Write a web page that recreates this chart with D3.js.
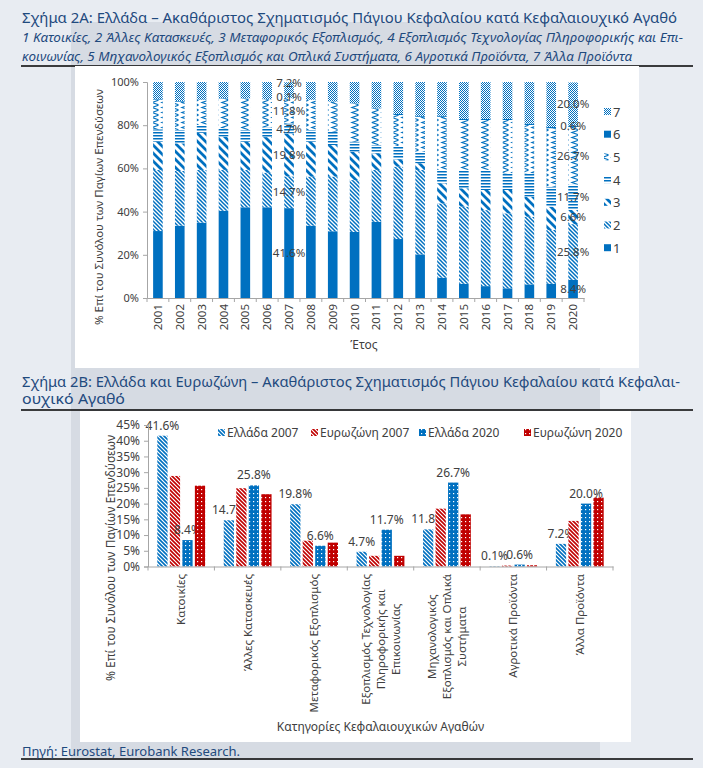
<!DOCTYPE html>
<html><head><meta charset="utf-8">
<script src="https://cdn.jsdelivr.net/npm/d3@7"></script>
<style>
body{margin:0;background:#e8ecf2;}
svg{display:block;}
text{font-family:"Noto Sans",sans-serif;}
</style>
</head><body>
<svg id="c" width="703" height="768"></svg>
<script>
// ---------- DATA: Chart 2A ----------
const years = ["2001","2002","2003","2004","2005","2006","2007","2008","2009","2010","2011","2012","2013","2014","2015","2016","2017","2018","2019","2020"];
const seriesKeys = ["1","2","3","4","5","6","7"];
const s1 = [31.0,33.5,34.9,40.4,42.0,42.0,41.6,33.5,30.9,30.6,35.3,27.3,20.2,9.4,6.6,5.5,4.5,6.3,6.6,8.4];
const s2 = [28.3,25.3,24.4,18.9,17.3,16.0,14.7,22.7,25.3,24.0,24.0,33.5,39.1,34.4,35.7,35.2,34.7,31.3,24.9,25.8];
const s3 = [13.1,12.8,17.2,15.4,13.1,16.5,19.8,16.2,14.6,13.1,7.7,3.4,3.1,9.3,8.5,9.3,10.8,9.3,10.8,6.6];
const s4 = [5.7,6.2,3.6,3.9,5.4,4.5,4.7,5.4,6.2,4.7,3.8,6.2,5.3,6.2,8.5,9.3,7.7,10.8,9.2,11.7];
const s5 = [13.6,13.1,11.6,13.8,14.6,13.0,11.8,13.9,13.9,17.7,17.0,14.3,16.2,24.6,23.1,23.1,24.7,22.4,27.1,26.7];
const s6 = [0.3,0.3,0.2,0.2,0.1,0.1,0.1,0.1,0.1,0.1,0.3,0.5,0.4,0.5,0.5,0.5,0.5,0.6,0.6,0.6];
const s7 = [8.0,8.8,8.1,7.4,7.5,7.9,7.2,8.2,9.0,9.8,11.9,14.8,15.7,15.6,17.1,17.1,17.1,19.3,20.8,20.0];
const labelYears = ["2007","2020"];
const yTicksA = [0,0.2,0.4,0.6,0.8,1.0];

// ---------- DATA: Chart 2B ----------
const catLines = [["Κατοικίες"],["Άλλες Κατασκευές"],["Μεταφορικός Εξοπλισμός"],["Εξοπλισμός Τεχνολογίας","Πληροφορικής και","Επικοινωνίας"],["Μηχανολογικός","Εξοπλισμός και Οπλικά","Συστήματα"],["Αγροτικά Προϊόντα"],["Άλλα Προϊόντα"]];
const categoriesB = catLines.map(l => l.join(" "));
const seriesB = ["Ελλάδα 2007","Ευρωζώνη 2007","Ελλάδα 2020","Ευρωζώνη 2020"];
const greece2007 = [41.6,14.7,19.8,4.7,11.8,0.1,7.2];
const eurozone2007 = [28.8,24.9,8.2,3.4,18.4,0.3,14.5];
const greece2020 = [8.4,25.8,6.6,11.7,26.7,0.6,20.0];
const eurozone2020 = [25.7,23.0,7.6,3.4,16.6,0.4,21.9];
const labelledB = ["Ελλάδα 2007","Ελλάδα 2020"];
const yTicksB = [0,0.05,0.10,0.15,0.20,0.25,0.30,0.35,0.40,0.45];

// ---------- SETUP ----------
const svg = d3.select("#c");
const BLUE = "#0070c0", RED = "#c00000", TXT = "#404040", AX = "#a6a6a6", TITLE = "#1f4a7e";
const defs = svg.append("defs");
function pat(id, w, h, bg, draw){
  const p = defs.append("pattern").attr("id",id).attr("patternUnits","userSpaceOnUse").attr("width",w).attr("height",h);
  p.append("rect").attr("width",w).attr("height",h).attr("fill",bg);
  draw(p);
}
pat("p1",4,4,BLUE,()=>{});
pat("p2",4,4,"#fff",p=>p.append("path").attr("d","M0,0L4,4M-1,3L1,5M3,-1L5,1").attr("stroke",BLUE).attr("stroke-width",1.5));
pat("p3",8,8,"#fff",p=>p.append("path").attr("d","M0,0L8,8M-2,6L2,10M6,-2L10,2").attr("stroke",BLUE).attr("stroke-width",2.8));
pat("p4",4,3,"#fff",p=>p.append("rect").attr("y",0).attr("width",4).attr("height",1.5).attr("fill",BLUE));
pat("p5",10,5,"#fff",p=>p.append("path").attr("d","M8.5,0.3L2,2.5L8.5,4.7").attr("fill","none").attr("stroke",BLUE).attr("stroke-width",1.2));
pat("p6",4,4,BLUE,()=>{});
pat("p7",2,2,"#fff",p=>{p.append("rect").attr("width",1).attr("height",1).attr("fill",BLUE);p.append("rect").attr("x",1).attr("y",1).attr("width",1).attr("height",1).attr("fill",BLUE);});
pat("b1",4,4,"#fff",p=>p.append("path").attr("d","M0,0L4,4M-1,3L1,5M3,-1L5,1").attr("stroke",BLUE).attr("stroke-width",1.6));
pat("b2",4,4,"#fff",p=>p.append("path").attr("d","M0,0L4,4M-1,3L1,5M3,-1L5,1").attr("stroke",RED).attr("stroke-width",1.6));
pat("b3",4,4,BLUE,p=>p.append("rect").attr("x",1).attr("y",1).attr("width",1.2).attr("height",1.2).attr("fill","#fff"));
pat("b4",4,4,RED,p=>p.append("rect").attr("x",1).attr("y",1).attr("width",1.2).attr("height",1.2).attr("fill","#fff"));

// ---------- PAGE LAYOUT ----------
svg.append("rect").attr("width",703).attr("height",768).attr("fill","#e8ecf2");
svg.append("rect").attr("x",71).attr("y",22).attr("width",529).attr("height",738).attr("fill","#d6dbe3");
[66,410,759].forEach(yy=>svg.append("line").attr("x1",21).attr("x2",693).attr("y1",yy).attr("y2",yy).attr("stroke","#000").attr("stroke-width",1.3));
svg.append("rect").attr("x",75).attr("y",66).attr("width",564).attr("height",302).attr("fill","#fff");
svg.append("rect").attr("x",80).attr("y",411).attr("width",551).attr("height",331).attr("fill","#fff");

function fitText(x,y,str,size,len,opts={}){
  const t = svg.append("text").attr("x",x).attr("y",y).text(str).attr("font-size",size).attr("fill",TITLE)
    .attr("textLength",len).attr("lengthAdjust","spacingAndGlyphs");
  if(opts.italic) t.attr("font-style","italic");
  return t;
}
fitText(22,23,"Σχήμα 2Α: Ελλάδα – Ακαθάριστος Σχηματισμός Πάγιου Κεφαλαίου κατά Κεφαλαιουχικό Αγαθό",14.5,655);
fitText(22,42,"1 Κατοικίες, 2 Άλλες Κατασκευές, 3 Μεταφορικός Εξοπλισμός, 4 Εξοπλισμός Τεχνολογίας Πληροφορικής και Επι-",12.5,661,{italic:true});
fitText(22,61,"κοινωνίας, 5 Μηχανολογικός Εξοπλισμός και Οπλικά Συστήματα, 6 Αγροτικά Προϊόντα, 7 Άλλα Προϊόντα",12.5,610,{italic:true});
fitText(22,387,"Σχήμα 2Β: Ελλάδα και Ευρωζώνη – Ακαθάριστος Σχηματισμός Πάγιου Κεφαλαίου κατά Κεφαλαι-",13.5,658);
fitText(22,404,"ουχικό Αγαθό",13.5,103);
fitText(22,756,"Πηγή: Eurostat, Eurobank Research.",12.5,218);

// ---------- CHART 2A ----------
const seriesA = [s1,s2,s3,s4,s5,s6,s7];
const rowsA = years.map((yr,i)=>{const r={year:yr}; seriesKeys.forEach((k,j)=>r[k]=seriesA[j][i]/100); return r;});
const stackA = d3.stack().keys(seriesKeys)(rowsA);
const xA = d3.scaleBand().domain(years).range([147,584]).paddingInner(0.56).paddingOuter(0.28);
const yA = d3.scaleLinear().domain([0,1]).range([298,82]);
const gA = svg.append("g");
gA.selectAll("g.layer").data(stackA).join("g").attr("fill",(d,i)=>`url(#p${i+1})`)
  .selectAll("rect").data(d=>d).join("rect")
  .attr("x",d=>xA(d.data.year)).attr("width",xA.bandwidth())
  .attr("y",d=>yA(d[1])).attr("height",d=>Math.max(0,yA(d[0])-yA(d[1])));

const yAxA = gA.append("g").attr("transform","translate(147,0)")
  .call(d3.axisLeft(yA).tickValues(yTicksA).tickFormat(d3.format(".0%")).tickSize(4).tickPadding(4));
yAxA.selectAll("line,path").attr("stroke",AX);
yAxA.selectAll("text").attr("font-size",11).attr("fill",TXT).attr("font-family","Noto Sans");

const xAxA = gA.append("g").attr("transform","translate(0,298)")
  .call(d3.axisBottom(xA).tickSize(0).tickFormat(""));
xAxA.select("path").attr("stroke",AX);
const gapA = xA.step()*xA.paddingInner()/2;
const boundsA = years.map(y=>xA(y)-gapA).concat([xA(years[years.length-1])+xA.bandwidth()+gapA]);
gA.selectAll("line.tb").data(boundsA).join("line").attr("x1",d=>d).attr("x2",d=>d).attr("y1",298).attr("y2",302).attr("stroke",AX);
gA.selectAll("text.yr").data(years).join("text")
  .attr("transform",d=>`translate(${xA(d)+xA.bandwidth()/2},304) rotate(-90)`)
  .attr("text-anchor","end").attr("dy","0.35em").attr("font-size",11.5).attr("fill",TXT).text(d=>d);
gA.append("text").attr("x",364).attr("y",349).attr("text-anchor","middle").attr("font-size",12).attr("fill",TXT).text("Έτος");
gA.append("text").attr("transform","translate(99,207) rotate(-90)").attr("text-anchor","middle").attr("dy","0.35em")
  .attr("font-size",11.5).attr("fill",TXT).text("% Επί του Συνόλου των Παγίων Επενδύσεων");

labelYears.forEach(yr=>{
  const i = years.indexOf(yr);
  let prev = Infinity;
  stackA.forEach((layer,k)=>{
    const d = layer[i];
    let yy = yA((d[0]+d[1])/2);
    if(prev - yy < 14) yy = prev - 14;
    prev = yy;
    gA.append("text").attr("x",xA(yr)+xA.bandwidth()/2).attr("y",yy).attr("dy","0.35em").attr("text-anchor","middle")
      .attr("font-size",11.5).attr("fill",TXT).text(d3.format(".1f")(seriesA[k][i])+"%");
  });
});
// legend A
const legA = gA.append("g");
seriesKeys.slice().reverse().forEach((k,i)=>{
  const yy = 112 + i*22.7;
  legA.append("rect").attr("x",604).attr("y",yy-4).attr("width",7).attr("height",7).attr("fill",`url(#p${k})`);
  legA.append("text").attr("x",613).attr("y",yy).attr("dy","0.35em").attr("font-size",13).attr("fill",TXT).text(k);
});

// ---------- CHART 2B ----------
const seriesBVals = [greece2007,eurozone2007,greece2020,eurozone2020];
const x0 = d3.scaleBand().domain(categoriesB).range([148,613]).paddingInner(0.28).paddingOuter(0.14);
const x1 = d3.scaleBand().domain(seriesB).range([0,x0.bandwidth()]).paddingInner(0.18);
const yB = d3.scaleLinear().domain([0,0.45]).range([566.5,425]);
const gB = svg.append("g");
categoriesB.forEach((c,ci)=>{
  seriesB.forEach((s,si)=>{
    const v = seriesBVals[si][ci]/100;
    gB.append("rect").attr("x",x0(c)+x1(s)).attr("width",x1.bandwidth())
      .attr("y",yB(v)).attr("height",yB(0)-yB(v)).attr("fill",`url(#b${si+1})`);
    if(labelledB.includes(s)){
      gB.append("text").attr("x",x0(c)+x1(s)+x1.bandwidth()/2).attr("y",yB(v)-6).attr("text-anchor","middle")
        .attr("font-size",12).attr("fill",TXT).text(d3.format(".1f")(seriesBVals[si][ci])+"%");
    }
  });
});
const yAxB = gB.append("g").attr("transform","translate(148,0)")
  .call(d3.axisLeft(yB).tickValues(yTicksB).tickFormat(d3.format(".0%")).tickSize(4).tickPadding(4));
yAxB.selectAll("line,path").attr("stroke",AX);
yAxB.selectAll("text").attr("font-size",12).attr("fill",TXT).attr("font-family","Noto Sans");
const xAxB = gB.append("g").attr("transform","translate(0,566.5)").call(d3.axisBottom(x0).tickSize(0).tickFormat(""));
xAxB.select("path").attr("stroke",AX);
const boundsB = categoriesB.map(c=>x0(c)-x0.step()*x0.paddingOuter()).concat([613]);
gB.selectAll("line.tb").data(boundsB).join("line").attr("x1",d=>d).attr("x2",d=>d).attr("y1",566.5).attr("y2",570.5).attr("stroke",AX);

catLines.forEach((lines,ci)=>{
  const cx = x0(categoriesB[ci]) + x0.bandwidth()/2;
  const g = gB.append("g").attr("transform",`translate(${cx},574) rotate(-90)`);
  const ts = lines.map((ln,li)=>g.append("text").attr("y",(li-(lines.length-1)/2)*15).attr("dy","0.35em")
    .attr("text-anchor","middle").attr("font-size",11.5).attr("fill",TXT).text(ln));
  const maxL = d3.max(ts,t=>t.node().getComputedTextLength());
  ts.forEach(t=>t.attr("x",-maxL/2));
});
gB.append("text").attr("x",380.5).attr("y",731).attr("text-anchor","middle").attr("font-size",12).attr("fill",TXT).text("Κατηγορίες Κεφαλαιουχικών Αγαθών");
gB.append("text").attr("transform","translate(111,558) rotate(-90)").attr("text-anchor","middle").attr("dy","0.35em")
  .attr("font-size",12).attr("fill",TXT).text("% Επί του Συνόλου των Παγίων Επενδύσεων");
// legend B
const legX = [222,315,423,528];
seriesB.forEach((s,si)=>{
  gB.append("rect").attr("x",legX[si]-4).attr("y",429).attr("width",7).attr("height",7).attr("fill",`url(#b${si+1})`);
  gB.append("text").attr("x",legX[si]+5).attr("y",433).attr("dy","0.35em").attr("font-size",12).attr("fill",TXT).text(s);
});
</script>
</body></html>
